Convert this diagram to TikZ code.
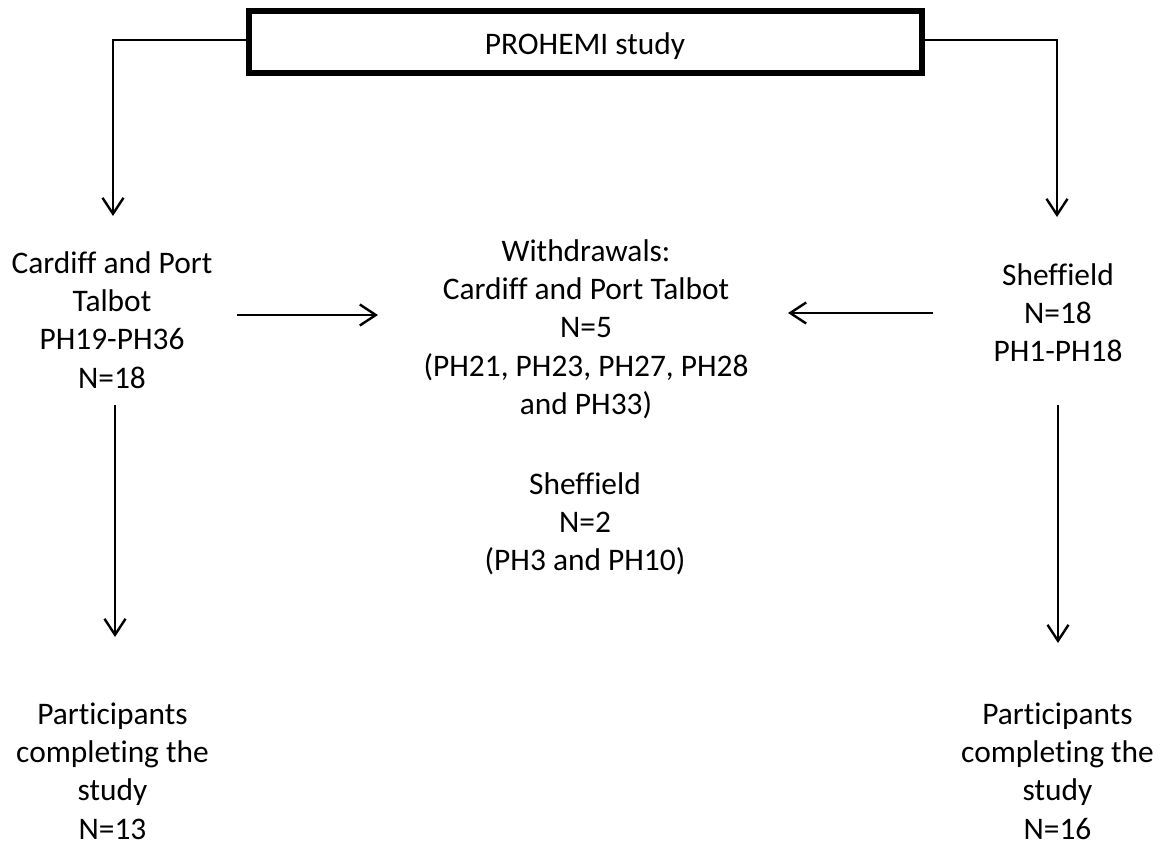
\documentclass[tikz,border=0pt]{standalone}
\usepackage{fontspec}
\setmainfont{Carlito}[Ligatures=NoCommon]
\usetikzlibrary{arrows.meta}
\begin{document}
\begin{tikzpicture}[x=1pt,y=-1pt,
  txt/.style={anchor=base,align=center,inner sep=0pt,
    font=\fontsize{31.4}{38.4}\selectfont},
  arr/.style={line width=2pt,-{Straight Barb[length=16pt,width=21pt,line width=2.4pt]}},
  boxstyle/.style={draw,line width=5.5pt,minimum width=673pt,minimum height=62pt,inner sep=0pt}]
\useasboundingbox (0,0) rectangle (1165,848);
\node[boxstyle] (top) at (585.5,42) {};
\node[txt] (toptxt) at (585,55) {PROHEMI study};
% base anchor = baseline of last line
\node[txt] (left) at (112,388.2) {Cardiff and Port\\Talbot\\PH19-PH36\\N=18};
\node[txt] (right) at (1058,361.8) {Sheffield\\N=18\\PH1-PH18};
\node[txt] (wcpt) at (586,414.6) {Withdrawals:\\Cardiff and Port Talbot\\N=5\\(PH21, PH23, PH27, PH28\\and PH33)};
\node[txt] (wsh) at (585,570.8) {Sheffield\\N=2\\(PH3 and PH10)};
\node[txt] (doneL) at (112.5,839.2) {Participants\\completing the\\study\\N=13};
\node[txt] (doneR) at (1057.5,839.2) {Participants\\completing the\\study\\N=16};
% connector end points
\coordinate (lTip) at (113,216);
\coordinate (rTip) at (1057,217);
\coordinate (lhS) at (237,315);
\coordinate (lhE) at (378,315);
\coordinate (rhS) at (933,313);
\coordinate (rhE) at (788,313);
\coordinate (lvS) at (115,405);
\coordinate (lvE) at (115,637);
\coordinate (rvS) at (1058,405);
\coordinate (rvE) at (1058,643);
\draw[arr] ([yshift=2pt]top.west) -| (lTip);
\draw[arr] ([yshift=2pt]top.east) -| (rTip);
\draw[arr] (lhS) -- (lhE);
\draw[arr] (rhS) -- (rhE);
\draw[arr] (lvS) -- (lvE);
\draw[arr] (rvS) -- (rvE);
\end{tikzpicture}
\end{document}
